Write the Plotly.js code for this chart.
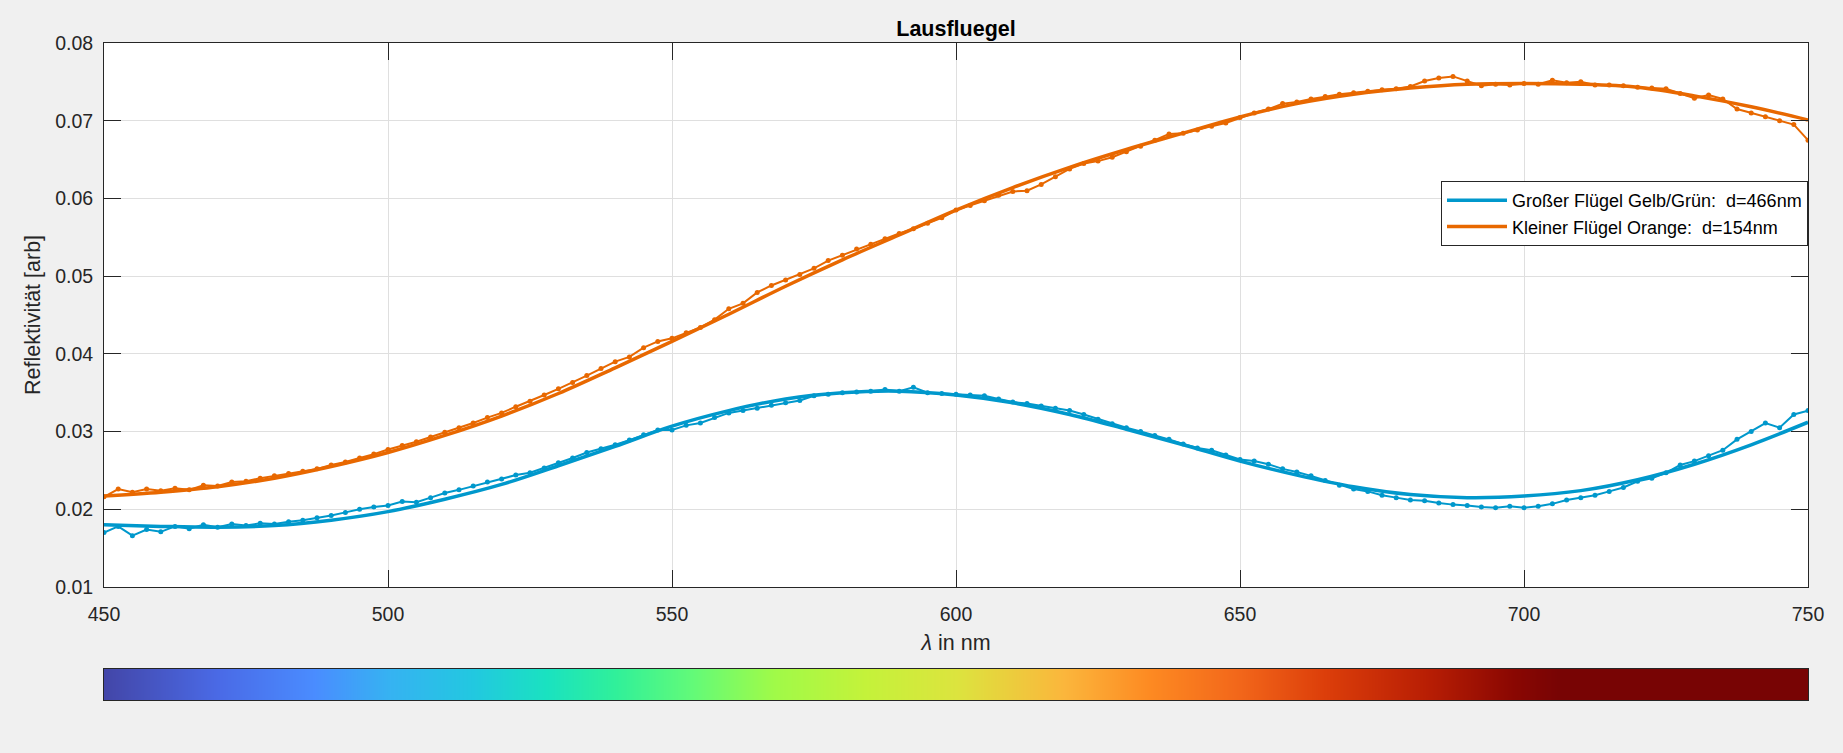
<!DOCTYPE html>
<html>
<head>
<meta charset="utf-8">
<script src="https://cdn.plot.ly/plotly-3.0.1.min.js"></script>
<style>
  html, body { margin: 0; padding: 0; background: #f0f0f0; }
  #chart { width: 1843px; height: 753px; }
</style>
</head>
<body>
<div id="chart"></div>
<script>
// ---- measured wavelengths (nm) ----
const lambdaMeas = [
  450,452.5,455,457.5,460,462.5,465,467.5,470,472.5,475,477.5,480,482.5,485,487.5,490,492.5,495,497.5,
  500,502.5,505,507.5,510,512.5,515,517.5,520,522.5,525,527.5,530,532.5,535,537.5,540,542.5,545,547.5,
  550,552.5,555,557.5,560,562.5,565,567.5,570,572.5,575,577.5,580,582.5,585,587.5,590,592.5,595,597.5,
  600,602.5,605,607.5,610,612.5,615,617.5,620,622.5,625,627.5,630,632.5,635,637.5,640,642.5,645,647.5,
  650,652.5,655,657.5,660,662.5,665,667.5,670,672.5,675,677.5,680,682.5,685,687.5,690,692.5,695,697.5,
  700,702.5,705,707.5,710,712.5,715,717.5,720,722.5,725,727.5,730,732.5,735,737.5,740,742.5,745,747.5,750
];
// ---- measured reflectivity: large wing (yellow/green) ----
const blueMeas = [
  0.0170,0.0178,0.0166,0.0174,0.0171,0.0178,0.0175,0.0180,0.0177,0.0181,0.0179,0.0182,0.0181,0.0184,0.0186,0.0189,0.0192,0.0196,0.0200,0.0203,
  0.0205,0.0210,0.0209,0.0215,0.0221,0.0225,0.0230,0.0235,0.0239,0.0244,0.0247,0.0253,0.0260,0.0266,0.0273,0.0278,0.0283,0.0289,0.0296,0.0302,
  0.0302,0.0308,0.0311,0.0318,0.0324,0.0327,0.0330,0.0334,0.0337,0.0340,0.0346,0.0348,0.0350,0.0351,0.0352,0.0354,0.0352,0.0357,0.0350,0.0349,
  0.0348,0.0347,0.0346,0.0342,0.0338,0.0336,0.0333,0.0330,0.0327,0.0322,0.0316,0.0310,0.0305,0.0300,0.0295,0.0290,0.0284,0.0279,0.0276,0.0270,
  0.0264,0.0262,0.0258,0.0252,0.0248,0.0243,0.0237,0.0231,0.0226,0.0223,0.0218,0.0215,0.0212,0.0211,0.0208,0.0206,0.0205,0.0203,0.0202,0.0204,
  0.0202,0.0204,0.0207,0.0212,0.0215,0.0218,0.0223,0.0228,0.0236,0.0240,0.0247,0.0257,0.0262,0.0269,0.0276,0.0290,0.0300,0.0311,0.0305,0.0322,0.0327
];
// ---- measured reflectivity: small wing (orange) ----
const orangeMeas = [
  0.0216,0.0226,0.0222,0.0226,0.0224,0.0227,0.0225,0.0231,0.0230,0.0235,0.0236,0.0240,0.0243,0.0246,0.0249,0.0252,0.0257,0.0261,0.0266,0.0271,
  0.0277,0.0282,0.0287,0.0293,0.0299,0.0305,0.0311,0.0318,0.0324,0.0332,0.0339,0.0347,0.0355,0.0363,0.0372,0.0381,0.0390,0.0396,0.0408,0.0416,
  0.0420,0.0427,0.0434,0.0444,0.0458,0.0465,0.0479,0.0488,0.0495,0.0502,0.0510,0.0520,0.0527,0.0535,0.0541,0.0548,0.0555,0.0561,0.0568,0.0575,
  0.0585,0.0591,0.0597,0.0604,0.0609,0.0610,0.0618,0.0628,0.0638,0.0645,0.0648,0.0653,0.0660,0.0667,0.0675,0.0683,0.0684,0.0688,0.0693,0.0697,
  0.0704,0.0710,0.0715,0.0722,0.0724,0.0728,0.0731,0.0734,0.0736,0.0738,0.0740,0.0741,0.0744,0.0751,0.0755,0.0757,0.0751,0.0745,0.0747,0.0746,
  0.0748,0.0747,0.0752,0.0749,0.0750,0.0746,0.0746,0.0745,0.0743,0.0742,0.0741,0.0735,0.0729,0.0733,0.0728,0.0715,0.0710,0.0705,0.0700,0.0695,0.0675
];
// ---- fit curves ----
const lambdaFit = [450,460,470,480,490,500,510,520,530,540,550,560,570,580,590,600,610,620,630,640,650,660,670,680,690,700,710,720,730,740,750];
const blueFit = [0.0180,0.0178,0.0177,0.0179,0.0186,0.0197,0.0213,0.0232,0.0256,0.0281,0.0307,0.0327,0.0342,0.0350,0.0352,0.0347,0.0337,0.0322,0.0303,0.0283,0.0262,0.0244,0.0229,0.0219,0.0215,0.0217,0.0224,0.0238,0.0258,0.0283,0.0312];
const orangeFit = [0.0217,0.0222,0.0229,0.0240,0.0255,0.0273,0.0295,0.0320,0.0349,0.0382,0.0416,0.0451,0.0487,0.0521,0.0553,0.0585,0.0614,0.0640,0.0663,0.0684,0.0705,0.0722,0.0734,0.0742,0.0747,0.0748,0.0747,0.0743,0.0732,0.0718,0.0701];
const seriesNames = ['Großer Flügel Gelb/Grün:  d=466nm', 'Kleiner Flügel Orange:  d=154nm'];
// ---- spectrum strip colour stops ----
const stripLambda = [450,470,487,500,515,528,540,553,568,584,600,619,634,650,665,683,698,706,750];
const stripColors = ['#4346a8','#4a6ae6','#4a8cff','#36b2f2','#22c8e0','#1ae2c0','#30f09a','#60fa7a','#a0fa48','#c4f23a','#dce43e','#fbb63c','#fd8a22','#f2661a','#dc3e0a','#b81e04','#8a0702','#780404','#780404'];
const xTicks = [450,500,550,600,650,700,750];
const yTicks = [0.01,0.02,0.03,0.04,0.05,0.06,0.07,0.08];

const BLUE = '#0098cc', ORANGE = '#e86800';
const FONT = 'Liberation Sans, Arial, sans-serif';
const AX = '#262626';

const lmin = stripLambda[0], lmax = stripLambda[stripLambda.length - 1];
const colorscale = stripLambda.map((l, i) => [(l - lmin) / (lmax - lmin), stripColors[i]]);

const traces = [
  { x: lambdaMeas, y: blueMeas, type: 'scatter', mode: 'lines+markers', showlegend: false,
    line: { color: BLUE, width: 2 }, marker: { color: BLUE, size: 5 }, hoverinfo: 'skip' },
  { x: lambdaMeas, y: orangeMeas, type: 'scatter', mode: 'lines+markers', showlegend: false,
    line: { color: ORANGE, width: 2 }, marker: { color: ORANGE, size: 5 }, hoverinfo: 'skip' },
  { x: lambdaFit, y: blueFit, type: 'scatter', mode: 'lines', name: seriesNames[0],
    line: { color: BLUE, width: 3.5, shape: 'spline' } },
  { x: lambdaFit, y: orangeFit, type: 'scatter', mode: 'lines', name: seriesNames[1],
    line: { color: ORANGE, width: 3.5, shape: 'spline' } },
  { x: stripLambda, y: [0], z: [stripLambda], type: 'heatmap', xaxis: 'x2', yaxis: 'y2',
    colorscale: colorscale, zmin: lmin, zmax: lmax, zsmooth: 'best', showscale: false, hoverinfo: 'skip' }
];

const layout = {
  width: 1843, height: 753,
  paper_bgcolor: '#f0f0f0', plot_bgcolor: '#ffffff',
  margin: { l: 104, r: 35, t: 43, b: 53, pad: 0 },
  font: { family: FONT, color: AX },
  title: { text: '<b>Lausfluegel</b>', x: 0.5, xref: 'paper', xanchor: 'center',
           y: 1 - 28 / 753, yanchor: 'middle', font: { family: FONT, size: 21.5, color: '#000' } },
  showlegend: true,
  legend: { x: 1, xanchor: 'right', xref: 'paper', y: (700 - 181) / 657, yanchor: 'top', yref: 'paper',
            bgcolor: '#ffffff', bordercolor: AX, borderwidth: 1, font: { family: FONT, size: 18, color: '#000' },
            itemwidth: 60, tracegroupgap: 0 },
  xaxis: {
    range: [450, 750], domain: [0, 1], anchor: 'y',
    tickvals: xTicks, ticktext: xTicks.map(String),
    ticks: 'inside', ticklen: 17, tickwidth: 1, tickcolor: AX,
    showline: true, linecolor: AX, linewidth: 1, mirror: 'ticks',
    showgrid: true, gridcolor: '#dfdfdf', gridwidth: 1, zeroline: false,
    tickfont: { family: FONT, size: 19.5, color: AX }, ticklabelstandoff: 10,
    title: { text: '<i>λ</i> in nm', font: { family: FONT, size: 21.5, color: AX }, standoff: 10 }
  },
  yaxis: {
    range: [0.01, 0.08], domain: [0.172, 1], anchor: 'x',
    tickvals: yTicks, ticktext: yTicks.map(v => v.toFixed(2)),
    ticks: 'inside', ticklen: 17, tickwidth: 1, tickcolor: AX,
    showline: true, linecolor: AX, linewidth: 1, mirror: 'ticks',
    showgrid: true, gridcolor: '#dfdfdf', gridwidth: 1, zeroline: false,
    tickfont: { family: FONT, size: 19.5, color: AX }, ticklabelstandoff: 6,
    title: { text: 'Reflektivität [arb]', font: { family: FONT, size: 21.5, color: AX }, standoff: 8 }
  },
  xaxis2: {
    range: [450, 750], domain: [0, 1], anchor: 'y2',
    showticklabels: false, ticks: '', showgrid: false, zeroline: false,
    showline: true, linecolor: AX, linewidth: 1, mirror: true, fixedrange: true
  },
  yaxis2: {
    range: [-0.5, 0.5], domain: [0, (700 - 669) / 657], anchor: 'x2',
    showticklabels: false, ticks: '', showgrid: false, zeroline: false,
    showline: true, linecolor: AX, linewidth: 1, mirror: true, fixedrange: true
  }
};

Plotly.newPlot('chart', traces, layout, { displayModeBar: false, staticPlot: true });
</script>
</body>
</html>
